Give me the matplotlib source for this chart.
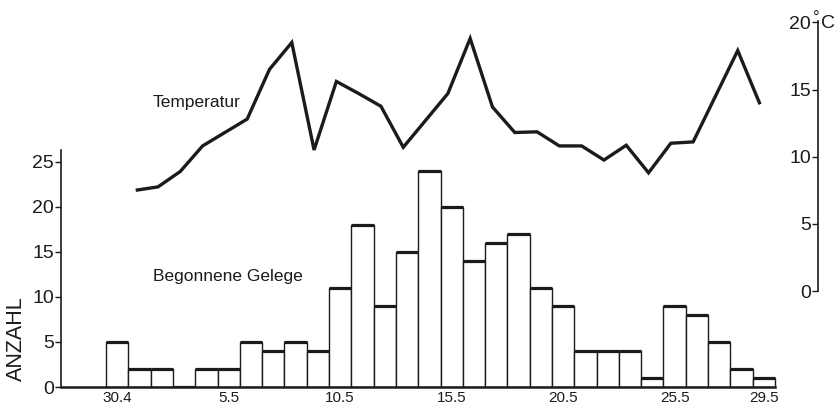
import matplotlib.pyplot as plt

plt.rcParams["font.family"] = ["Liberation Sans", "DejaVu Sans"]

INK = "#1b1b1b"
W, H = 839, 405

# one bar per day, 30.4 .. 29.5
DAYS = ["30.4"] + [f"{d}.5" for d in range(1, 30)]
GELEGE = [5, 2, 2, 0, 2, 2, 5, 4, 5, 4, 11, 18, 9, 15, 24,
          20, 14, 16, 17, 11, 9, 4, 4, 4, 1, 9, 8, 5, 2, 1]

# daily mean temperature, from 1.5 on
TEMP_DAYS = DAYS[1:]
TEMP = [7.5, 7.75, 8.9, 10.8, 11.8, 12.8, 16.5, 18.5, 10.5, 15.6,
        14.7, 13.75, 10.7, 12.7, 14.7, 18.8, 13.7, 11.8, 11.85, 10.8,
        10.8, 9.75, 10.85, 8.8, 11.0, 11.1, 14.5, 17.9, 13.9]

TICK_DAYS = ["30.4", "5.5", "10.5", "15.5", "20.5", "25.5", "29.5"]
COUNT_TICKS = [0, 5, 10, 15, 20, 25]
TEMP_TICKS = [0, 5, 10, 15, 20]


def box(x0, x1, ytop, ybot):
    # pixel box -> figure fraction rect
    return [x0 / W, 1 - ybot / H, (x1 - x0) / W, (ybot - ytop) / H]


fig = plt.figure(figsize=(W / 100, H / 100), dpi=100)
XLIM = (-2.02, 31.93)

ax = fig.add_axes(box(61, 818, 150, 387))
ax.set_xlim(*XLIM)
ax.set_ylim(0, 26.33)

xs = [DAYS.index(d) for d in DAYS]
ax.bar(xs, GELEGE, width=1.0, align="edge", facecolor="white",
       edgecolor=INK, linewidth=1.0, zorder=2)
ax.hlines(GELEGE, xs, [x + 1 for x in xs], color=INK, linewidth=2.3, zorder=3)

for side in ("top", "right"):
    ax.spines[side].set_visible(False)
ax.spines["left"].set_linewidth(1.2)
ax.spines["left"].set_color(INK)
ax.spines["bottom"].set_linewidth(1.8)
ax.spines["bottom"].set_color(INK)
ax.spines["bottom"].set_bounds(XLIM[0], len(DAYS))

ax.set_xticks([DAYS.index(d) + 0.5 for d in TICK_DAYS])
ax.set_xticklabels(TICK_DAYS)
ax.tick_params(axis="x", length=0, pad=3, labelsize=11, labelcolor=INK)
ax.set_yticks(COUNT_TICKS)
ax.tick_params(axis="y", length=4, width=1.0, pad=1, labelsize=14,
               labelcolor=INK, color=INK)

# temperature scale sits on its own axes, spine at the right edge
ax2 = fig.add_axes(box(61, 818, 21, 291))
ax2.patch.set_visible(False)
ax2.set_xlim(*XLIM)
ax2.set_ylim(0, 20.1)
tx = [DAYS.index(d) + 0.33 for d in TEMP_DAYS]
ax2.plot(tx, TEMP, color=INK, linewidth=2.4, solid_joinstyle="miter",
         solid_capstyle="butt", clip_on=False)

for side in ("top", "right", "bottom"):
    ax2.spines[side].set_visible(False)
ax2.spines["left"].set_position(("axes", 1.0))
ax2.spines["left"].set_linewidth(1.2)
ax2.spines["left"].set_color(INK)
ax2.set_xticks([])
ax2.set_yticks(TEMP_TICKS)
ax2.tick_params(axis="y", length=4, width=1.0, pad=1, labelsize=14,
                labelcolor=INK, color=INK)

fig.text(821 / W, 1 - 23 / H, "C", fontsize=14, color=INK, ha="left", va="center")
fig.text(816 / W, 1 - 18 / H, "°", fontsize=12, color=INK, ha="center", va="center")

fig.text(153 / W, 1 - 103 / H, "Temperatur", fontsize=12.5, color=INK,
         ha="left", va="center")
fig.text(153 / W, 1 - 276.7 / H, "Begonnene Gelege", fontsize=12.5, color=INK,
         ha="left", va="center")
fig.text(16.7 / W, 1 - 339 / H, "ANZAHL", fontsize=15.5, color=INK,
         rotation=90, ha="center", va="center")

fig.savefig("out.png", dpi=100)
